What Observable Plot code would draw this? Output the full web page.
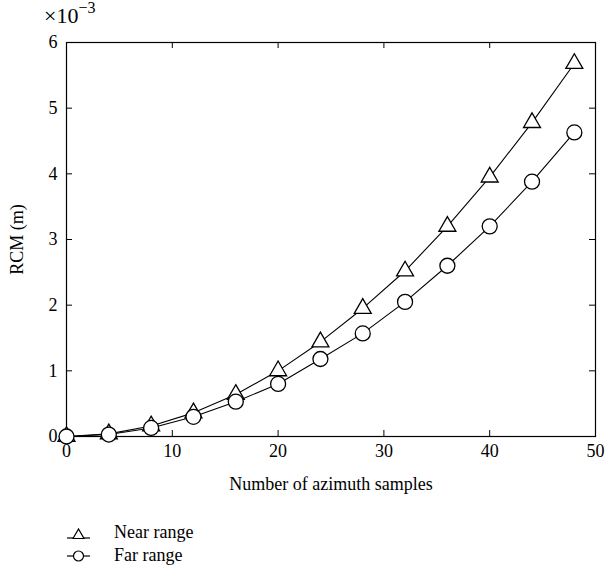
<!DOCTYPE html>
<html><head><meta charset="utf-8">
<script src="https://cdn.jsdelivr.net/npm/d3@7"></script>
<script src="https://cdn.jsdelivr.net/npm/@observablehq/plot@0.6"></script>
<style>
body{margin:0;background:#fff;font-family:"Liberation Serif","DejaVu Serif",serif;}
#wrap{position:relative;width:607px;}
#exp{position:absolute;left:44px;top:1px;font-size:22px;color:#000;}
#exp sup{font-size:16px;position:relative;top:-2px;}
#legend{margin-left:67px;margin-top:25px;font-size:18px;line-height:23px;}
#legend div{display:flex;align-items:center;}
#legend svg{margin-right:24px;}
</style></head>
<body><div id="wrap"><div id="exp">×10<sup>−3</sup></div><div id="chart"></div>
<div id="legend"></div></div>
<script>
const samples = [0,4,8,12,16,20,24,28,32,36,40,44,48];
const nearRange = [0,0.04,0.16,0.36,0.64,1.0,1.44,1.95,2.52,3.2,3.95,4.78,5.68];
const farRange = [0,0.03,0.13,0.30,0.53,0.80,1.18,1.57,2.05,2.60,3.20,3.88,4.63];
const xTicks = [0,10,20,30,40,50];
const yTicks = [0,1,2,3,4,5,6];
const seriesNames = ["Near range","Far range"];

const near = samples.map((x,i)=>({x, y: nearRange[i]}));
const far = samples.map((x,i)=>({x, y: farRange[i]}));

const W = 607, H = 496, mL = 66, mR = 12, mT = 42, mB = 60;
const fw = W - mL - mR, fh = H - mT - mB, tl = 6;

const chart = Plot.plot({
  width: W, height: H,
  marginLeft: mL, marginRight: mR, marginTop: mT, marginBottom: mB,
  style: {fontFamily: '"Liberation Serif", "DejaVu Serif", serif', fontSize: "18px", color: "#000", background: "#fff"},
  x: {domain: [0,50]},
  y: {domain: [0,6]},
  marks: [
    Plot.axisX({ticks: xTicks, tickFormat: d=>String(d), tickSize: 0, tickPadding: 8, label: "Number of azimuth samples", labelAnchor: "center", labelOffset: 53, labelArrow: "none", fontSize: 18}),
    Plot.axisY({ticks: yTicks, tickFormat: d=>String(d), tickSize: 0, tickPadding: 9, label: "RCM (m)", labelAnchor: "center", labelOffset: 56, labelArrow: "none", fontSize: 18}),
    Plot.tickX(xTicks, {x: d=>d, insetTop: fh - tl, stroke: "#000"}),
    Plot.tickX(xTicks, {x: d=>d, insetBottom: fh - tl, stroke: "#000"}),
    Plot.tickY(yTicks, {y: d=>d, insetRight: fw - tl, stroke: "#000"}),
    Plot.tickY(yTicks, {y: d=>d, insetLeft: fw - tl, stroke: "#000"}),
    Plot.frame({stroke: "#000", strokeWidth: 1.2}),
    Plot.line(near, {x: "x", y: "y", stroke: "#000", strokeWidth: 1.1}),
    Plot.line(far, {x: "x", y: "y", stroke: "#000", strokeWidth: 1.1}),
    Plot.dot(near, {x: "x", y: "y", symbol: "triangle", r: 6.3, fill: "#fff", stroke: "#000", strokeWidth: 1.3}),
    Plot.dot(far, {x: "x", y: "y", symbol: "circle", r: 7.5, fill: "#fff", stroke: "#000", strokeWidth: 1.3})
  ]
});
document.getElementById("chart").appendChild(chart);

const leg = document.getElementById("legend");
const icons = [
  '<svg width="23" height="16"><line x1="0" y1="13" x2="23" y2="13" stroke="#000" stroke-width="1.2"/><path d="M6,13.5 L11.5,4 L17,13.5 Z" fill="#fff" stroke="#000" stroke-width="1.2"/></svg>',
  '<svg width="23" height="16"><line x1="0" y1="8" x2="23" y2="8" stroke="#000" stroke-width="1.2"/><circle cx="11.5" cy="8" r="5" fill="#fff" stroke="#000" stroke-width="1.2"/></svg>'
];
seriesNames.forEach((n,i)=>{
  const d = document.createElement("div");
  d.innerHTML = icons[i] + "<span>" + n + "</span>";
  leg.appendChild(d);
});
</script></body></html>
